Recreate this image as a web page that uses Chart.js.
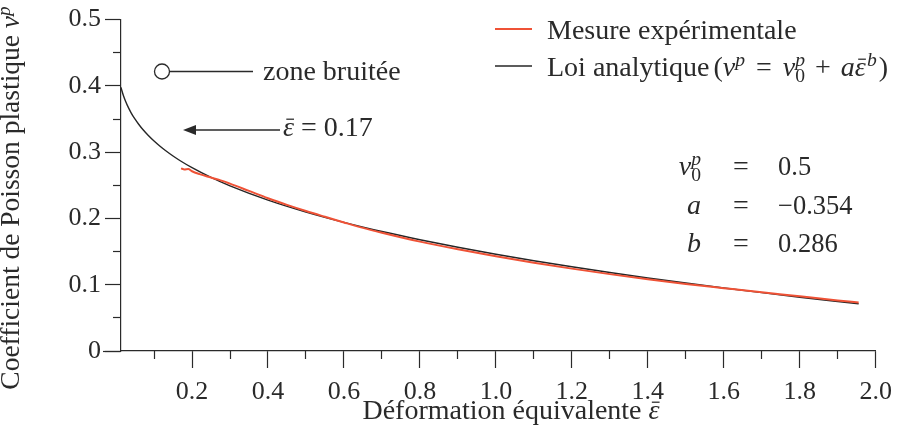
<!DOCTYPE html>
<html><head><meta charset="utf-8">
<script src="https://cdn.jsdelivr.net/npm/chart.js@4.4.1/dist/chart.umd.min.js"></script>
<style>html,body{margin:0;padding:0;background:#fff;}#wrap{width:901px;height:436px;position:relative;}</style>
</head><body><div id="wrap"><canvas id="c" width="901" height="436"></canvas></div>
<script>
// ---- data ----
const seriesNames = ['Mesure expérimentale', 'Loi analytique'];
const expX = [0.171, 0.18, 0.19, 0.2, 0.22, 0.24, 0.27, 0.3, 0.35, 0.4, 0.45, 0.5, 0.55, 0.6, 0.65, 0.7, 0.8, 0.9, 1.0, 1.1, 1.2, 1.3, 1.4, 1.5, 1.6, 1.7, 1.8, 1.9, 1.955];
const expY = [0.2755, 0.2740, 0.2745, 0.2712, 0.2668, 0.2632, 0.2585, 0.2525, 0.2415, 0.2305, 0.2205, 0.2112, 0.2025, 0.1940, 0.1858, 0.1785, 0.1650, 0.1535, 0.1430, 0.1333, 0.1243, 0.1160, 0.1082, 0.1012, 0.0948, 0.0885, 0.0825, 0.0763, 0.0732];
const lawX = [0.013, 0.015, 0.02, 0.025, 0.03, 0.04, 0.05, 0.06, 0.07, 0.085, 0.1, 0.115, 0.13, 0.15, 0.17, 0.2, 0.25, 0.3, 0.4, 0.5, 0.6, 0.7, 0.8, 0.9, 1.0, 1.1, 1.2, 1.3, 1.4, 1.5, 1.6, 1.7, 1.8, 1.9, 1.955];
const lawY = [0.3978, 0.3935, 0.3843, 0.3767, 0.3702, 0.3590, 0.3497, 0.3417, 0.3345, 0.3251, 0.3168, 0.3093, 0.3025, 0.2942, 0.2867, 0.2766, 0.2619, 0.2491, 0.2276, 0.2096, 0.1941, 0.1803, 0.1679, 0.1565, 0.1460, 0.1362, 0.1271, 0.1184, 0.1102, 0.1025, 0.0951, 0.0880, 0.0812, 0.0747, 0.0712];
const xMajorTicks = [0.2, 0.4, 0.6, 0.8, 1.0, 1.2, 1.4, 1.6, 1.8, 2.0];
const xTickLabels = ['0.2', '0.4', '0.6', '0.8', '1.0', '1.2', '1.4', '1.6', '1.8', '2.0'];
const xMinorTicks = [0.1, 0.3, 0.5, 0.7, 0.9, 1.1, 1.3, 1.5, 1.7, 1.9];
const yMajorTicks = [0, 0.1, 0.2, 0.3, 0.4, 0.5];
const yTickLabels = ['0', '0.1', '0.2', '0.3', '0.4', '0.5'];
const yMinorTicks = [0.05, 0.15, 0.25, 0.35, 0.45];
const xRange = [0.013, 2.0];
const yRange = [0, 0.5];
const xTitleText = 'Déformation équivalente';
const yTitleText = 'Coefficient de Poisson plastique';
const paramNu0 = '0.5';
const paramA = '−0.354';
const paramB = '0.286';
const noisyLabel = 'zone bruitée';
const epsStart = '0.17';

// ---- styling ----
const SERIF = '"Liberation Serif", "DejaVu Serif", serif';
const INK = '#2a2a2a';

function drawRich(ctx, segs, x, y, size, align) {
  const items = [];
  let cx = 0, lastStart = 0;
  for (const s of segs) {
    const fs = (s.sup || s.sub) ? size * 0.7 : size;
    ctx.font = (s.it ? 'italic ' : '') + fs + 'px ' + SERIF;
    const w = ctx.measureText(s.t).width;
    let sx;
    if (s.stack) { sx = lastStart; cx = Math.max(cx, sx + w); }
    else { sx = cx + (s.padL || 0); cx = sx + w + (s.padR || 0); }
    lastStart = sx;
    const dy = s.sup ? -size * 0.34 : (s.sub ? size * 0.22 : 0);
    items.push({ t: s.t, font: ctx.font, x: sx, w: w, dy: dy, bar: s.bar });
  }
  const x0 = align === 'center' ? x - cx / 2 : (align === 'right' ? x - cx : x);
  ctx.textAlign = 'left';
  ctx.textBaseline = 'alphabetic';
  for (const it of items) {
    ctx.font = it.font; ctx.fillText(it.t, x0 + it.x, y + it.dy);
    if (it.bar) {
      const by = y + it.dy - size * 0.6;
      ctx.save(); ctx.strokeStyle = ctx.fillStyle; ctx.lineWidth = Math.max(1, size * 0.045);
      ctx.beginPath(); ctx.moveTo(x0 + it.x + it.w * 0.3, by); ctx.lineTo(x0 + it.x + it.w * 1.0, by); ctx.stroke();
      ctx.restore();
    }
  }
  return cx;
}
const EPS = { t: 'ε', it: true, bar: true };

const decor = {
  id: 'decor',
  afterDraw(chart) {
    const ctx = chart.ctx, a = chart.chartArea;
    ctx.save();
    ctx.fillStyle = INK; ctx.strokeStyle = INK;
    // x-axis line extension to the left of the y axis
    ctx.lineWidth = 1.2;
    ctx.beginPath(); ctx.moveTo(a.left - 18, Math.round(a.bottom) + 0.5); ctx.lineTo(a.left, Math.round(a.bottom) + 0.5); ctx.stroke();

    // axis titles
    drawRich(ctx, [{ t: xTitleText + ' ' }, EPS], 511, 419, 28, 'center');
    ctx.save();
    ctx.translate(19, 198); ctx.rotate(-Math.PI / 2);
    drawRich(ctx, [{ t: yTitleText + ' ' }, { t: 'ν', it: true }, { t: 'p', it: true, sup: true }], 0, 0, 27.5, 'center');
    ctx.restore();

    // legend
    const ds = chart.data.datasets;
    const rows = [
      { y: 29, tb: 39, segs: [{ t: ds[0].label }] },
      { y: 66, tb: 76, segs: [{ t: ds[1].label }, { t: '(', padL: 4 }, { t: 'ν', it: true }, { t: 'p', it: true, sup: true }, { t: ' = ', padL: 4, padR: 4 }, { t: 'ν', it: true }, { t: 'p', it: true, sup: true }, { t: '0', sub: true, stack: true }, { t: ' + ', padL: 3, padR: 3 }, { t: 'a', it: true }, EPS, { t: 'b', it: true, sup: true, padL: 1 }, { t: ')', padL: 2 }] }
    ];
    rows.forEach((r, i) => {
      ctx.strokeStyle = ds[i].borderColor; ctx.lineWidth = ds[i].borderWidth;
      ctx.beginPath(); ctx.moveTo(495, r.y); ctx.lineTo(532, r.y); ctx.stroke();
      ctx.fillStyle = INK;
      drawRich(ctx, r.segs, 547, r.tb, 28, 'left');
    });

    // parameter table
    ctx.fillStyle = INK;
    drawRich(ctx, [{ t: 'ν', it: true }, { t: 'p', it: true, sup: true }, { t: '0', sub: true, stack: true }], 701, 175, 28, 'right');
    drawRich(ctx, [{ t: 'a', it: true }], 701, 213.5, 28, 'right');
    drawRich(ctx, [{ t: 'b', it: true }], 701, 252, 28, 'right');
    [175, 213.5, 252].forEach(b => drawRich(ctx, [{ t: '=' }], 741, b, 28, 'center'));
    drawRich(ctx, [{ t: paramNu0 }], 778, 175, 26.5, 'left');
    drawRich(ctx, [{ t: paramA }], 778, 213.5, 26.5, 'left');
    drawRich(ctx, [{ t: paramB }], 778, 252, 26.5, 'left');

    // noisy zone marker
    ctx.strokeStyle = INK; ctx.lineWidth = 1.3;
    ctx.beginPath(); ctx.arc(162, 71.5, 7.5, 0, Math.PI * 2); ctx.stroke();
    ctx.beginPath(); ctx.moveTo(169.5, 71.5); ctx.lineTo(253, 71.5); ctx.stroke();
    drawRich(ctx, [{ t: noisyLabel }], 263, 80, 28, 'left');

    // arrow eps = 0.17
    ctx.beginPath(); ctx.moveTo(194, 130); ctx.lineTo(280, 130); ctx.stroke();
    ctx.beginPath(); ctx.moveTo(183, 130); ctx.lineTo(196, 125); ctx.lineTo(196, 135); ctx.closePath(); ctx.fill();
    drawRich(ctx, [EPS, { t: ' = ' + epsStart }], 283, 136, 28, 'left');
    ctx.restore();
  }
};

const pts = (xs, ys) => xs.map((x, i) => ({ x: x, y: ys[i] }));
const tickFont = { family: SERIF, size: 26 };

new Chart(document.getElementById('c'), {
  type: 'line',
  data: {
    datasets: [
      { label: seriesNames[0], data: pts(expX, expY), borderColor: '#ef5236', borderWidth: 2, pointRadius: 0, cubicInterpolationMode: 'monotone', fill: false },
      { label: seriesNames[1], data: pts(lawX, lawY), borderColor: '#262626', borderWidth: 1.4, pointRadius: 0, cubicInterpolationMode: 'monotone', fill: false }
    ]
  },
  options: {
    responsive: false, animation: false, events: [],
    layout: { padding: { left: 61, top: 17, right: 21, bottom: 25 } },
    plugins: { legend: { display: false }, tooltip: { enabled: false }, title: { display: false } },
    scales: {
      x: {
        type: 'linear', position: 'bottom', min: xRange[0], max: xRange[1],
        afterBuildTicks: s => { s.ticks = xMajorTicks.map(v => ({ value: v })); },
        afterFit: s => { s.height = 60; },
        ticks: { font: tickFont, color: INK, padding: 9, maxRotation: 0, autoSkip: false, callback: (v, i) => xTickLabels[i] },
        grid: { drawOnChartArea: false, drawTicks: true, tickLength: 17, tickColor: INK, tickWidth: 1.2 },
        border: { display: true, color: INK, width: 1.2 }
      },
      xMinor: {
        type: 'linear', axis: 'x', position: { y: 0 }, min: xRange[0], max: xRange[1],
        afterBuildTicks: s => { s.ticks = xMinorTicks.map(v => ({ value: v })); },
        ticks: { display: false },
        grid: { drawOnChartArea: false, drawTicks: true, tickLength: 8, tickColor: INK, tickWidth: 1.2 },
        border: { display: false }
      },
      y: {
        type: 'linear', position: 'left', min: yRange[0], max: yRange[1],
        afterBuildTicks: s => { s.ticks = yMajorTicks.map(v => ({ value: v })); },
        afterFit: s => { s.width = 60; },
        ticks: { font: tickFont, color: INK, padding: 4, autoSkip: false, callback: (v, i) => yTickLabels[i] },
        grid: { drawOnChartArea: false, drawTicks: true, tickLength: 16, tickColor: INK, tickWidth: 1.2 },
        border: { display: true, color: INK, width: 1.2 }
      },
      yMinor: {
        type: 'linear', axis: 'y', position: { x: xRange[0] }, min: yRange[0], max: yRange[1],
        afterBuildTicks: s => { s.ticks = yMinorTicks.map(v => ({ value: v })); },
        ticks: { display: false },
        grid: { drawOnChartArea: false, drawTicks: true, tickLength: 8, tickColor: INK, tickWidth: 1.2 },
        border: { display: false }
      }
    }
  },
  plugins: [decor]
});
</script></body></html>
